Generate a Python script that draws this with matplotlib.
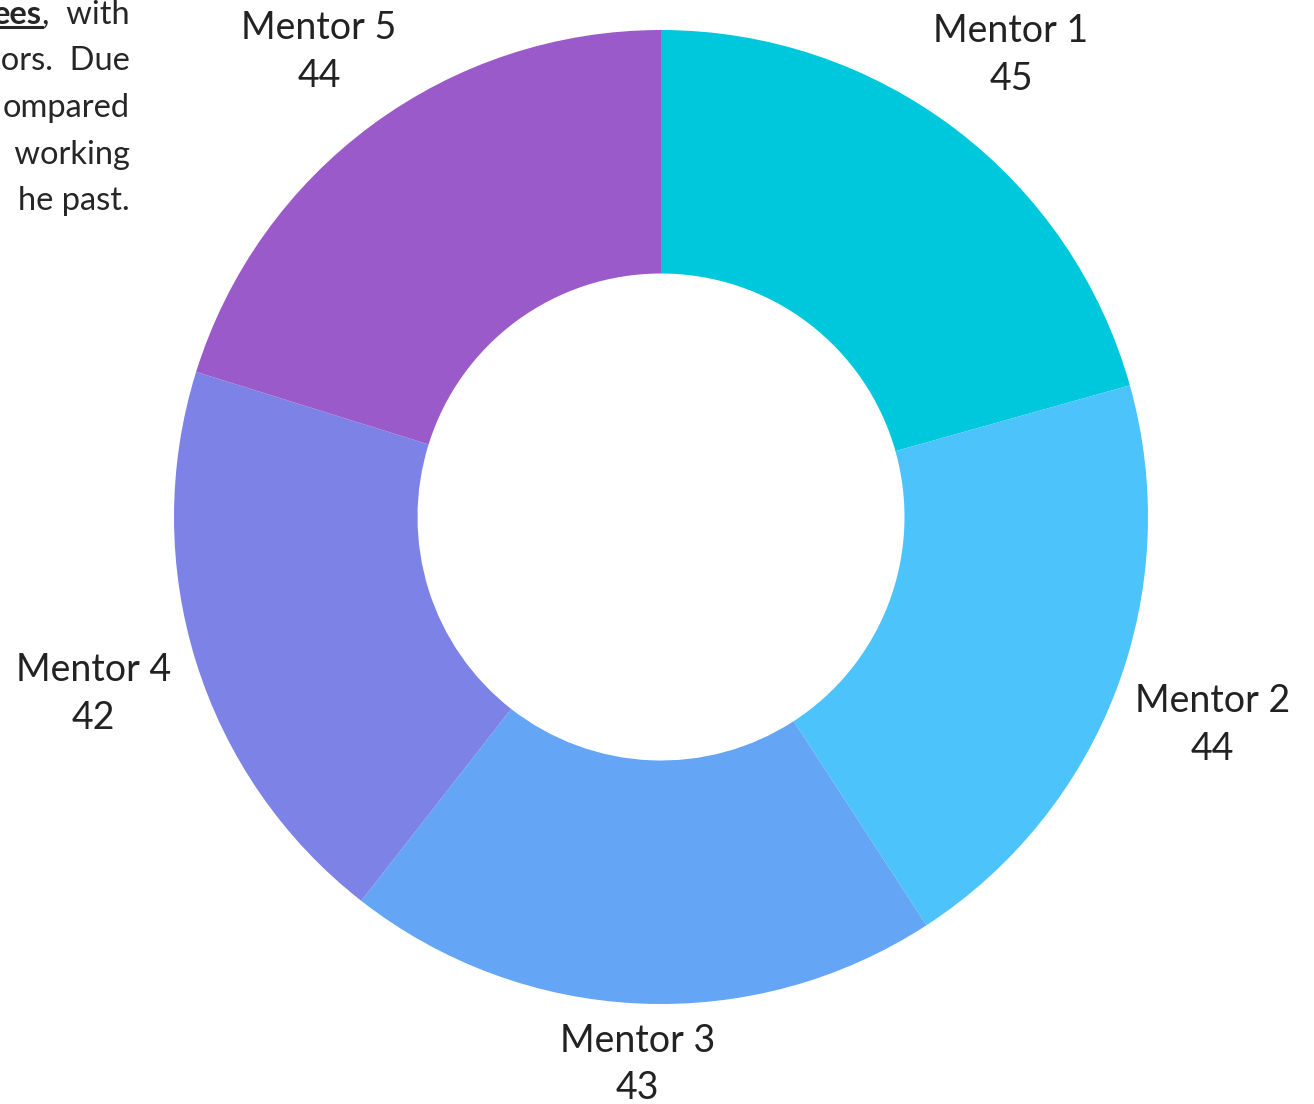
import matplotlib
matplotlib.use('Agg')
import matplotlib.pyplot as plt
import numpy as np

plt.rcParams['font.family'] = ['Lato', 'DejaVu Sans']

mentors = ['Mentor 1', 'Mentor 2', 'Mentor 3', 'Mentor 4', 'Mentor 5']
counts = [45, 44, 43, 42, 44]
colors = ['#00c8dc', '#4cc3fa', '#64a5f5', '#7d82e6', '#9b5aca']

# cropped paragraph from the page, right edge only
para_lines = ['ees,  with', 'tors.  Due', 'ompared', ' working', 'he past.']

W, H = 1314, 1104
cx, cy, R = 661, 517, 487  # donut centre / radius in pixels

fig = plt.figure(figsize=(W / 100, H / 100), dpi=100)
ax = fig.add_axes([0, 0, 1, 1])

wedges, _ = ax.pie(counts, colors=colors, startangle=90, counterclock=False,
                   radius=1.0, wedgeprops=dict(width=0.5, linewidth=0))

ax.set_xlim(-cx / R, (W - cx) / R)
ax.set_ylim(-(H - cy) / R, cy / R)
ax.set_aspect('auto')
ax.axis('off')

# label distances, bottom one sits closer
label_r = [1.19, 1.21, 1.125, 1.22, 1.185]
for w, name, n, r in zip(wedges, mentors, counts, label_r):
    ang = np.deg2rad((w.theta1 + w.theta2) / 2)
    ax.text(r * np.cos(ang), r * np.sin(ang), f'{name}\n{n}',
            ha='center', va='center', fontsize=27, color='#222222',
            linespacing=1.4)

# paragraph fragment at top-left
renderer = fig.canvas.get_renderer()
for i, line in enumerate(para_lines):
    y = H - 15 - i * 46.5
    t = fig.text(130 / W, y / H, line, ha='right', va='center',
                 fontsize=23.5, color='#262626')
    if i == 0:
        t.set_text(line[3:])
        bb = t.get_window_extent(renderer)
        b = fig.text(bb.x0 / W, y / H, 'ees', ha='right', va='center',
                     fontsize=23.5, fontweight='bold', color='#262626')
        eb = b.get_window_extent(renderer)
        uy = (bb.y0 + 3) / H
        fig.add_artist(plt.Line2D([eb.x0 / W, eb.x1 / W], [uy, uy],
                                  color='#262626', lw=2.2))

fig.savefig('out.png', dpi=100)
